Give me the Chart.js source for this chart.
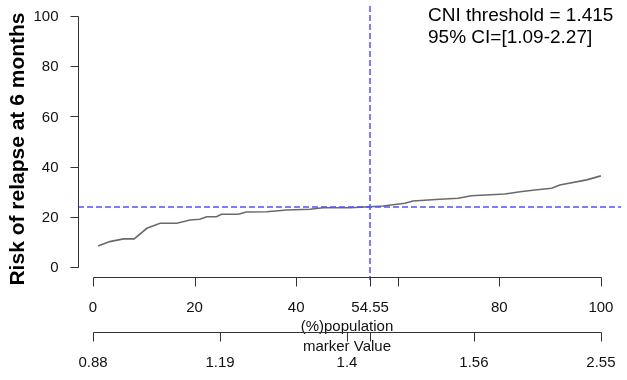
<!DOCTYPE html>
<html>
<head>
<meta charset="utf-8">
<script src="https://cdn.jsdelivr.net/npm/chart.js@4"></script>
<style>
  body { margin: 0; background: #fff; }
  #wrap { width: 627px; height: 380px; position: relative; }
</style>
</head>
<body>
<div id="wrap"><canvas id="myChart"></canvas></div>
<script>
// data
let popX = [1, 3.3, 6, 8.1, 10.6, 13.2, 16.5, 19.1, 21, 22.4, 24.3, 25.3, 28.6, 30.2, 34.2, 38.1, 42.7, 45.3, 50.6, 54.55, 57.1, 61.4, 63, 68.3, 71.9, 74.5, 81.1, 84.1, 87, 90.3, 91.9, 97.2, 100];
let riskY = [8.4, 10.1, 11.2, 11.2, 15.4, 17.4, 17.4, 18.7, 19, 20, 20, 21, 21, 21.9, 22, 22.7, 23, 23.6, 23.6, 24, 24.3, 25.4, 26.3, 27, 27.4, 28.4, 29.1, 30, 30.7, 31.4, 32.7, 34.7, 36.3];

let yTicks = [0, 20, 40, 60, 80, 100];
let popTicks = [0, 20, 40, 54.55, 60, 80, 100];
let popLabels = ['0', '20', '40', '54.55', '', '80', '100'];
let markerPos = [0, 25, 50, 54.55, 75, 100];
let markerLabels = ['0.88', '1.19', '1.4', '', '1.56', '2.55'];

let thresholdX = 54.55;
let thresholdY = 23.9;
let noteLines = ['CNI threshold = 1.415', '95% CI=[1.09-2.27]'];

const FONT = '"Liberation Sans", Arial, sans-serif';

// R-style axes, drawn through the chart scales
let rAxes = {
    id: 'rAxes',
    afterDatasetsDraw(chart) {
        let ctx = chart.ctx, a = chart.chartArea;
        let x = chart.scales.x, y = chart.scales.y;
        ctx.save();
        ctx.strokeStyle = '#5252ff';
        ctx.lineWidth = 1.5;
        ctx.setLineDash([6, 3]);
        let px = Math.round(x.getPixelForValue(thresholdX));
        ctx.beginPath();
        ctx.moveTo(px, a.top);
        ctx.lineTo(px, a.bottom + 3);
        ctx.stroke();
        let py = Math.round(y.getPixelForValue(thresholdY));
        ctx.beginPath();
        ctx.moveTo(a.left, py);
        ctx.lineTo(a.right, py);
        ctx.stroke();
        ctx.restore();
    },
    afterDraw(chart) {
        let ctx = chart.ctx, a = chart.chartArea;
        let x = chart.scales.x, y = chart.scales.y;
        ctx.save();
        ctx.strokeStyle = '#333';
        ctx.fillStyle = '#111';
        ctx.lineWidth = 1;
        ctx.font = '15px ' + FONT;

        // y axis
        let ax = Math.round(a.left) + 0.5;
        ctx.beginPath();
        ctx.moveTo(ax, Math.round(y.getPixelForValue(yTicks[0])) + 0.5);
        ctx.lineTo(ax, Math.round(y.getPixelForValue(yTicks[yTicks.length - 1])) + 0.5);
        yTicks.forEach(t => {
            let ty = Math.round(y.getPixelForValue(t)) + 0.5;
            ctx.moveTo(ax, ty);
            ctx.lineTo(ax - 8, ty);
        });
        ctx.stroke();
        ctx.textAlign = 'right';
        ctx.textBaseline = 'middle';
        yTicks.forEach(t => ctx.fillText(String(t), ax - 20, y.getPixelForValue(t) + 1));

        // population axis + marker axis
        let drawAxis = (ly, pos, labels, title, titleY) => {
            ctx.beginPath();
            ctx.moveTo(Math.round(x.getPixelForValue(pos[0])) + 0.5, ly);
            ctx.lineTo(Math.round(x.getPixelForValue(pos[pos.length - 1])) + 0.5, ly);
            pos.forEach(p => {
                let tx = Math.round(x.getPixelForValue(p)) + 0.5;
                ctx.moveTo(tx, ly);
                ctx.lineTo(tx, ly + 9);
            });
            ctx.stroke();
            ctx.textAlign = 'center';
            pos.forEach((p, i) => ctx.fillText(labels[i], x.getPixelForValue(p), ly + 30));
            ctx.fillText(title, x.getPixelForValue(50), titleY);
        };
        let ly1 = Math.round(a.bottom) + 0.5;
        drawAxis(ly1, popTicks, popLabels, '(%)population', ly1 + 49);
        let ly2 = ly1 + 55;
        drawAxis(ly2, markerPos, markerLabels, 'marker Value', ly2 + 14);

        // y title
        ctx.save();
        ctx.translate(18, 149);
        ctx.rotate(-Math.PI / 2);
        ctx.font = 'bold 21px ' + FONT;
        ctx.fillStyle = '#000';
        ctx.fillText('Risk of relapse at 6 months', 0, 0);
        ctx.restore();

        // note
        ctx.textAlign = 'left';
        ctx.font = '19px ' + FONT;
        ctx.fillStyle = '#000';
        ctx.fillText(noteLines[0], 428, 16);
        ctx.fillText(noteLines[1], 428, 38);
        ctx.restore();
    }
};

let ctx = document.getElementById('myChart').getContext('2d');
let chart = new Chart(ctx, {
    type: 'line',
    data: {
        datasets: [{
            data: popX.map((v, i) => ({ x: v, y: riskY[i] })),
            borderColor: '#6a6a6a',
            borderWidth: 1.6,
            pointRadius: 0,
            tension: 0,
            fill: false
        }]
    },
    options: {
        responsive: true,
        maintainAspectRatio: false,
        animation: false,
        layout: { padding: { left: 78, right: 6, top: 6, bottom: 103 } },
        plugins: { legend: { display: false }, tooltip: { enabled: false } },
        scales: {
            x: { type: 'linear', min: -2.96, max: 103.96, display: false },
            y: { type: 'linear', min: -4, max: 104, display: false }
        }
    },
    plugins: [rAxes]
});
</script>
</body>
</html>
